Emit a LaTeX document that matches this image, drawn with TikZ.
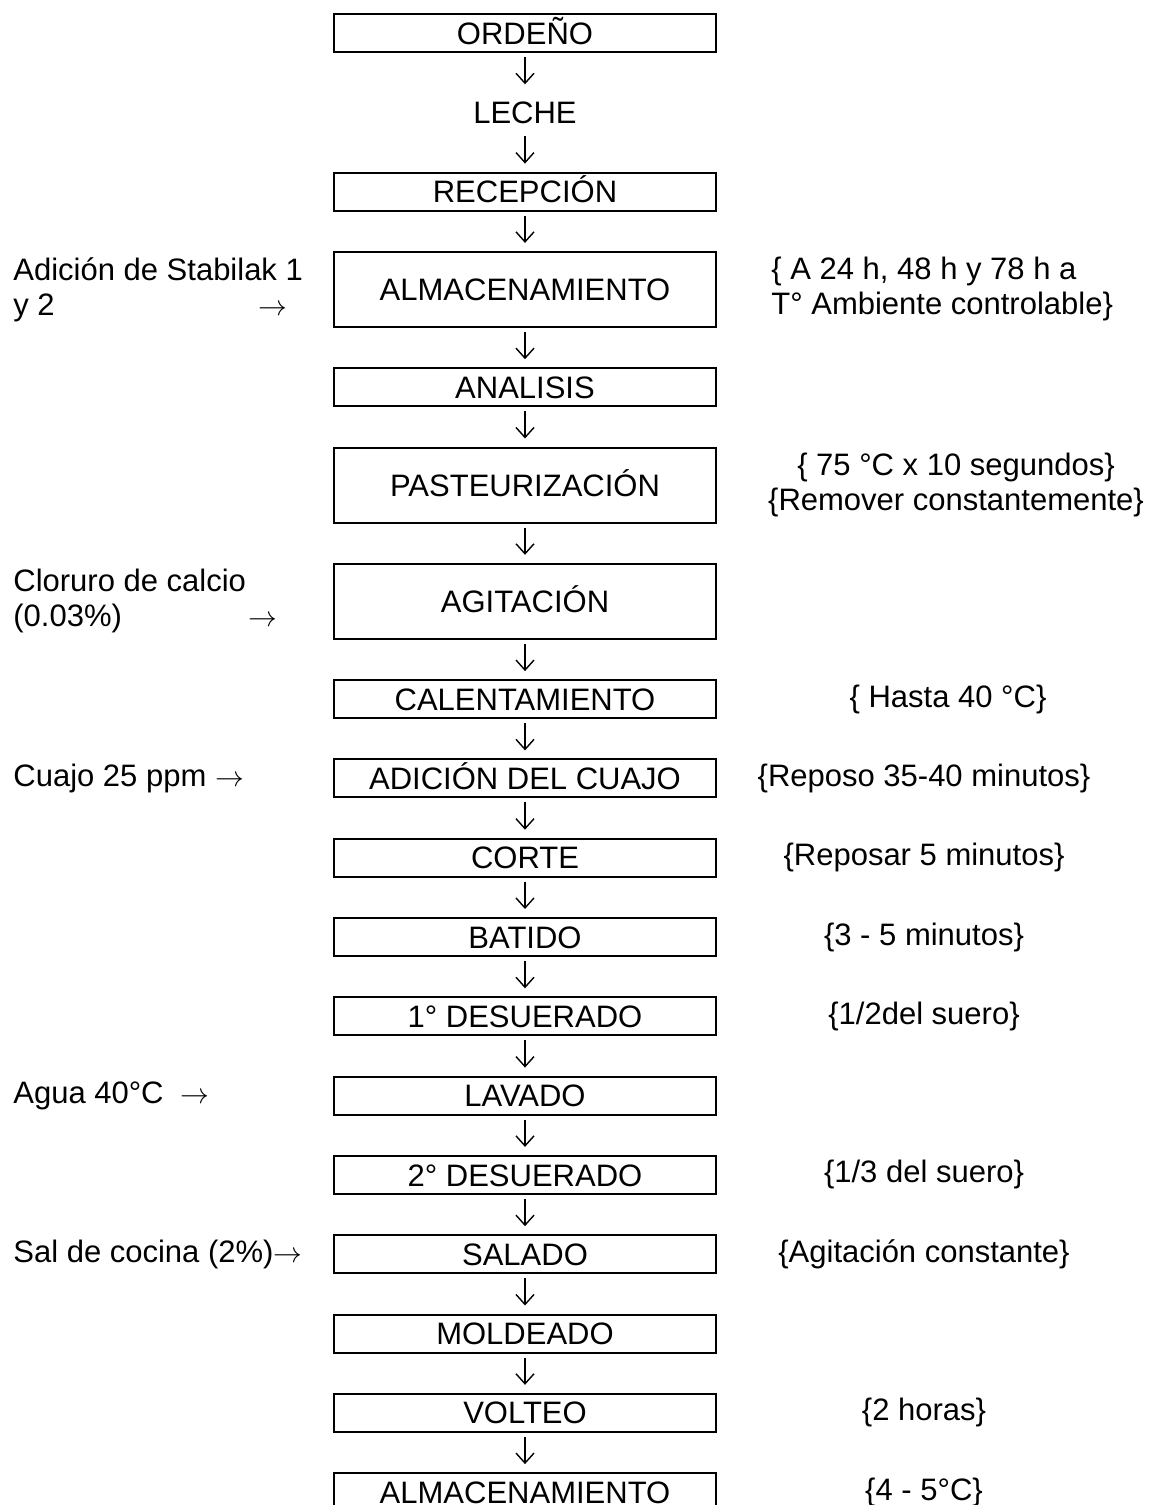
\documentclass[tikz,border=0pt]{standalone}
\usepackage{fontspec}
\setmainfont{Liberation Sans}
\usetikzlibrary{positioning,chains,arrows.meta}

\tikzset{
  stepbox/.style={draw, line width=1pt, minimum width=191pt, minimum height=19pt,
                  inner sep=0pt, text height=11.1pt, text depth=0pt},
  tallbox/.style={stepbox, minimum height=37.5pt},
  flow/.style={line width=0.7pt, -{Straight Barb[length=5pt,width=9pt]},
               shorten <=2pt, shorten >=4pt},
  note/.style={align=left, inner sep=0pt},
}

\begin{document}
\begin{tikzpicture}[
            every node/.style={font=\fontsize{15.5pt}{17.5pt}\selectfont},
            start chain=proc going below,
            node distance=19.65pt
        ]
        \useasboundingbox (0,0) rectangle (574pt,-752.5pt);
        \coordinate (lm) at (6.5pt,0);
        \coordinate (rl) at (385.5pt,0);
        \coordinate (rm) at (462pt,0);

        % main line
        \node[stepbox, on chain] (ordeno) at (262.5pt,-16.5pt) {ORDEÑO};
        \node[stepbox, draw=none, on chain] (leche) {LECHE};
        \node[stepbox, on chain] (recepcion) {RECEPCIÓN};
        \node[tallbox, on chain] (alm1) {ALMACENAMIENTO};
        \node[stepbox, on chain] (analisis) {ANALISIS};
        \node[tallbox, on chain] (pasteur) {PASTEURIZACIÓN};
        \node[tallbox, on chain] (agitacion) {AGITACIÓN};
        \node[stepbox, on chain] (calent) {CALENTAMIENTO};
        \node[stepbox, on chain] (cuajo) {ADICIÓN DEL CUAJO};
        \node[stepbox, on chain] (corte) {CORTE};
        \node[stepbox, on chain] (batido) {BATIDO};
        \node[stepbox, on chain] (desuero1) {1° DESUERADO};
        \node[stepbox, on chain] (lavado) {LAVADO};
        \node[stepbox, on chain] (desuero2) {2° DESUERADO};
        \node[stepbox, on chain] (salado) {SALADO};
        \node[stepbox, on chain] (moldeado) {MOLDEADO};
        \node[stepbox, on chain] (volteo) {VOLTEO};
        \node[stepbox, on chain] (alm2) {ALMACENAMIENTO};

        \draw[flow] (ordeno) -- (leche);
        \draw[flow] (leche) -- (recepcion);
        \draw[flow] (recepcion) -- (alm1);
        \draw[flow] (alm1) -- (analisis);
        \draw[flow] (analisis) -- (pasteur);
        \draw[flow] (pasteur) -- (agitacion);
        \draw[flow] (agitacion) -- (calent);
        \draw[flow] (calent) -- (cuajo);
        \draw[flow] (cuajo) -- (corte);
        \draw[flow] (corte) -- (batido);
        \draw[flow] (batido) -- (desuero1);
        \draw[flow] (desuero1) -- (lavado);
        \draw[flow] (lavado) -- (desuero2);
        \draw[flow] (desuero2) -- (salado);
        \draw[flow] (salado) -- (moldeado);
        \draw[flow] (moldeado) -- (volteo);
        \draw[flow] (volteo) -- (alm2);

        % inputs on the left
        \node[note, anchor=west] (stabilak) at (alm1 -| lm)
            {Adición de Stabilak 1\\\makebox[122.5pt][l]{y 2}$\rightarrow$};
        \node[note, anchor=west] (cloruro) at (agitacion -| lm)
            {Cloruro de calcio\\\makebox[117.5pt][l]{(0.03\%)}$\rightarrow$};
        \node[note, anchor=west] (cuajoin) at (cuajo -| lm) {Cuajo 25 ppm $\rightarrow$};
        \node[note, anchor=west] (agua) at (lavado -| lm) {Agua 40°C \ $\rightarrow$};
        \node[note, anchor=west] (sal) at (salado -| lm) {Sal de cocina (2\%)$\rightarrow$};

        % conditions on the right
        \node[note, anchor=west] (tiempos) at (alm1 -| rl)
            {\{ A 24 h, 48 h y 78 h a\\T° Ambiente controlable\}};
        \node[note, align=center] (temp) at ([xshift=16pt]pasteur -| rm)
            {\{ 75 °C x 10 segundos\}\\\{Remover constantemente\}};
        \node[note] (hasta) at ([xshift=12pt]calent -| rm) {\{ Hasta 40 °C\}};
        \node[note] (reposo) at (cuajo -| rm) {\{Reposo 35-40 minutos\}};
        \node[note] (reposar) at (corte -| rm) {\{Reposar 5 minutos\}};
        \node[note] (minutos) at (batido -| rm) {\{3 - 5 minutos\}};
        \node[note] (mitad) at (desuero1 -| rm) {\{1/2del suero\}};
        \node[note] (tercio) at (desuero2 -| rm) {\{1/3 del suero\}};
        \node[note] (agitac) at (salado -| rm) {\{Agitación constante\}};
        \node[note] (horas) at (volteo -| rm) {\{2 horas\}};
        \node[note] (frio) at (alm2 -| rm) {\{4 - 5°C\}};
    \end{tikzpicture}
\end{document}
